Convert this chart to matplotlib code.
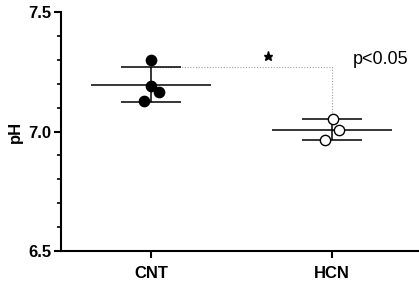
import matplotlib
matplotlib.use("Agg")
import matplotlib.pyplot as plt
import numpy as np
from matplotlib.ticker import MultipleLocator

plt.rcParams["font.family"] = ["Liberation Sans", "DejaVu Sans"]

# ── Datos ────────────────────────────────────────────────────────────────────
groups = ["CNT", "HCN"]
cnt_ph = [7.30, 7.19, 7.167, 7.126]
hcn_ph = [7.051, 7.006, 6.963]
cnt_jitter = [0.0, 0.0, 0.042, -0.039]
hcn_jitter = [0.004, 0.039, -0.037]
p_text = "p<0.05"

fig = plt.figure(figsize=(4.19, 2.86), dpi=100)
ax = fig.add_axes([0.1456, 0.1224, 0.852, 0.8356])

for i, (vals, jit, face) in enumerate([(cnt_ph, cnt_jitter, "black"),
                                        (hcn_ph, hcn_jitter, "white")]):
    v = np.array(vals)
    m, sd = v.mean(), v.std(ddof=1)
    ax.hlines(m, i - 0.33, i + 0.33, color="black", lw=1.1, zorder=2)
    ax.hlines([m - sd, m + sd], i - 0.166, i + 0.166, color="black", lw=1.1, zorder=2)
    ax.vlines(i, m - sd, m + sd, color="black", lw=1.1, zorder=2)
    ax.scatter(np.full(len(v), i) + np.array(jit), v, s=55, facecolor=face,
               edgecolor="black", linewidth=1.0, zorder=3)

# línea de significancia
cnt_top = np.mean(cnt_ph) + np.std(cnt_ph, ddof=1)
hcn_top = np.mean(hcn_ph) + np.std(hcn_ph, ddof=1)
ax.plot([0, 1, 1], [cnt_top, cnt_top, hcn_top], linestyle=(0, (1, 1.5)),
        color="#a0a0a0", lw=0.8, zorder=1)
ax.plot(0.646, 7.316, marker="*", color="black", ms=6.5)
ax.text(1.116, 7.30, p_text, fontsize=13, va="center", ha="left")

ax.set_xlim(-0.497, 1.475)
ax.set_ylim(6.5, 7.5)
ax.set_xticks([0, 1])
ax.set_xticklabels(groups, fontsize=12, fontweight="bold")
ax.yaxis.set_major_locator(MultipleLocator(0.5))
ax.yaxis.set_minor_locator(MultipleLocator(0.1))
ax.yaxis.set_major_formatter(matplotlib.ticker.FormatStrFormatter("%.1f"))
for lab in ax.get_yticklabels():
    lab.set_fontweight("bold")
    lab.set_fontsize(12)
ax.set_ylabel("pH", fontsize=12, fontweight="bold", labelpad=4)

ax.spines["top"].set_visible(False)
ax.spines["right"].set_visible(False)
ax.spines["left"].set_linewidth(1.5)
ax.spines["bottom"].set_linewidth(1.5)
ax.tick_params(axis="both", which="major", width=1.5, length=5, pad=2)
ax.tick_params(axis="x", which="major", pad=6)
ax.tick_params(axis="y", which="minor", width=1.2, length=3)

fig.savefig("out.png", dpi=100)
